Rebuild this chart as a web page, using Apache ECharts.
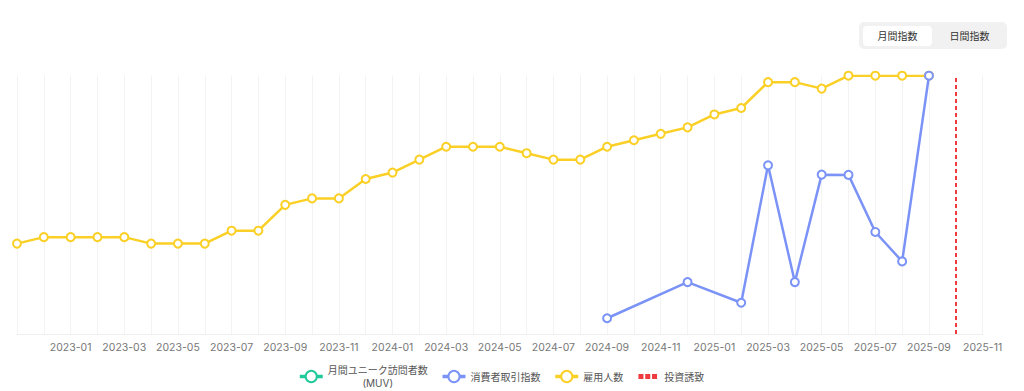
<!DOCTYPE html>
<html>
<head>
<meta charset="utf-8">
<script src="https://cdn.jsdelivr.net/npm/echarts@6/dist/echarts.min.js"></script>
<style>
html,body{margin:0;padding:0;background:#fff;}
#wrap{position:relative;width:1024px;height:391px;}
#chart{width:1024px;height:391px;}
.toggle{position:absolute;left:859px;top:22px;width:148px;height:27px;background:#f1f1f1;border-radius:5px;font-family:Inter,"Noto Sans CJK JP",sans-serif;font-size:10px;color:#333;}
.btn{position:absolute;top:4px;height:20px;line-height:20px;text-align:center;}
.btn.on{left:4px;width:69px;background:#fff;border-radius:4px;}
.btn.off{left:77px;width:67px;}
</style>
</head>
<body>
<div id="wrap">
<div id="chart"></div>
<div class="toggle"><div class="btn on">月間指数</div><div class="btn off">日間指数</div></div>
</div>
<script>
const months = ['2022-11','2022-12','2023-01','2023-02','2023-03','2023-04','2023-05','2023-06','2023-07','2023-08','2023-09','2023-10','2023-11','2023-12','2024-01','2024-02','2024-03','2024-04','2024-05','2024-06','2024-07','2024-08','2024-09','2024-10','2024-11','2024-12','2025-01','2025-02','2025-03','2025-04','2025-05','2025-06','2025-07','2025-08','2025-09','2025-10','2025-11'];
const seriesNames = ['月間ユニーク訪問者数 (MUV)','消費者取引指数','雇用人数','投資誘致'];
const muv = [];
const consumerIndex = [null,null,null,null,null,null,null,null,null,null,null,null,null,null,null,null,null,null,null,null,null,null,6.1,null,null,20.1,null,12.1,65.3,20.1,61.7,61.6,39.5,28.1,100];
const employees = [36,37,37,37,37,36,36,36,38,38,42,43,43,46,47,49,51,51,51,50,49,49,51,52,53,54,56,57,61,61,60,62,62,62,62];
const investmentMonth = '2025-10';
const colors = ['#22c99b','#7b93f6','#fbd026','#ef3b3f'];

const FONT = 'Inter, "Noto Sans CJK JP", sans-serif';
const chart = echarts.init(document.getElementById('chart'), null, {renderer:'svg'});
const baseLine = (i) => ({
  type:'line', name: seriesNames[i], color: colors[i],
  symbol:'emptyCircle', symbolSize:8,
  lineStyle:{width:2.5, color: colors[i]},
  itemStyle:{color: colors[i], borderWidth:2},
  emphasis:{disabled:true}
});
chart.setOption({
  animation:false,
  textStyle:{fontFamily:FONT},
  grid:{left:17, right:41.4, top:75.7, bottom:57, containLabel:false},
  legend:{
    left:298, top:365, padding:0, itemWidth:23, itemHeight:14, itemGap:13,
    selectedMode:false,
    lineStyle:{width:3.5},
    itemStyle:{borderWidth:2.5},
    data:[
      {name:seriesNames[0]},
      {name:seriesNames[1]},
      {name:seriesNames[2]},
      {name:seriesNames[3], icon:'path://M0,0M23,14M2.2,4.5h5v5h-5zM9,4.5h5v5h-5zM15.8,4.5h5v5h-5z'}
    ],
    formatter:function(name){
      if(name===seriesNames[0]) return '{a|月間ユニーク訪問者数}\n{b|(MUV)}';
      return name;
    },
    textStyle:{color:'#555', fontSize:10, fontFamily:FONT,
      rich:{a:{color:'#555',fontSize:10,lineHeight:13,fontFamily:FONT},
            b:{color:'#555',fontSize:10,lineHeight:13,align:'center',fontFamily:FONT}}}
  },
  xAxis:{
    type:'category', data:months, boundaryGap:false,
    axisLine:{show:true, lineStyle:{color:'#eeeeee'}},
    axisTick:{show:false},
    axisLabel:{color:'#777', fontSize:10.5, margin:8, fontFamily:FONT,
      interval:function(i){return i%2===0 && i>0;}},
    splitLine:{show:true, interval:0, lineStyle:{color:'#f3f3f3', width:1}}
  },
  yAxis:[
    {type:'value', min:22, max:62, show:false},
    {type:'value', min:0, max:100, show:false}
  ],
  series:[
    Object.assign(baseLine(0), {data:muv, yAxisIndex:1}),
    Object.assign(baseLine(1), {data:consumerIndex, yAxisIndex:1, connectNulls:true, z:3}),
    Object.assign(baseLine(2), {data:employees, yAxisIndex:0, z:2}),
    Object.assign(baseLine(3), {data:[], yAxisIndex:0, symbol:'none',
      markLine:{silent:true, symbol:'none', label:{show:false},
        lineStyle:{color:colors[3], width:2, type:[4,3]},
        data:[{xAxis:investmentMonth}]}})
  ]
});
</script>
</body>
</html>
